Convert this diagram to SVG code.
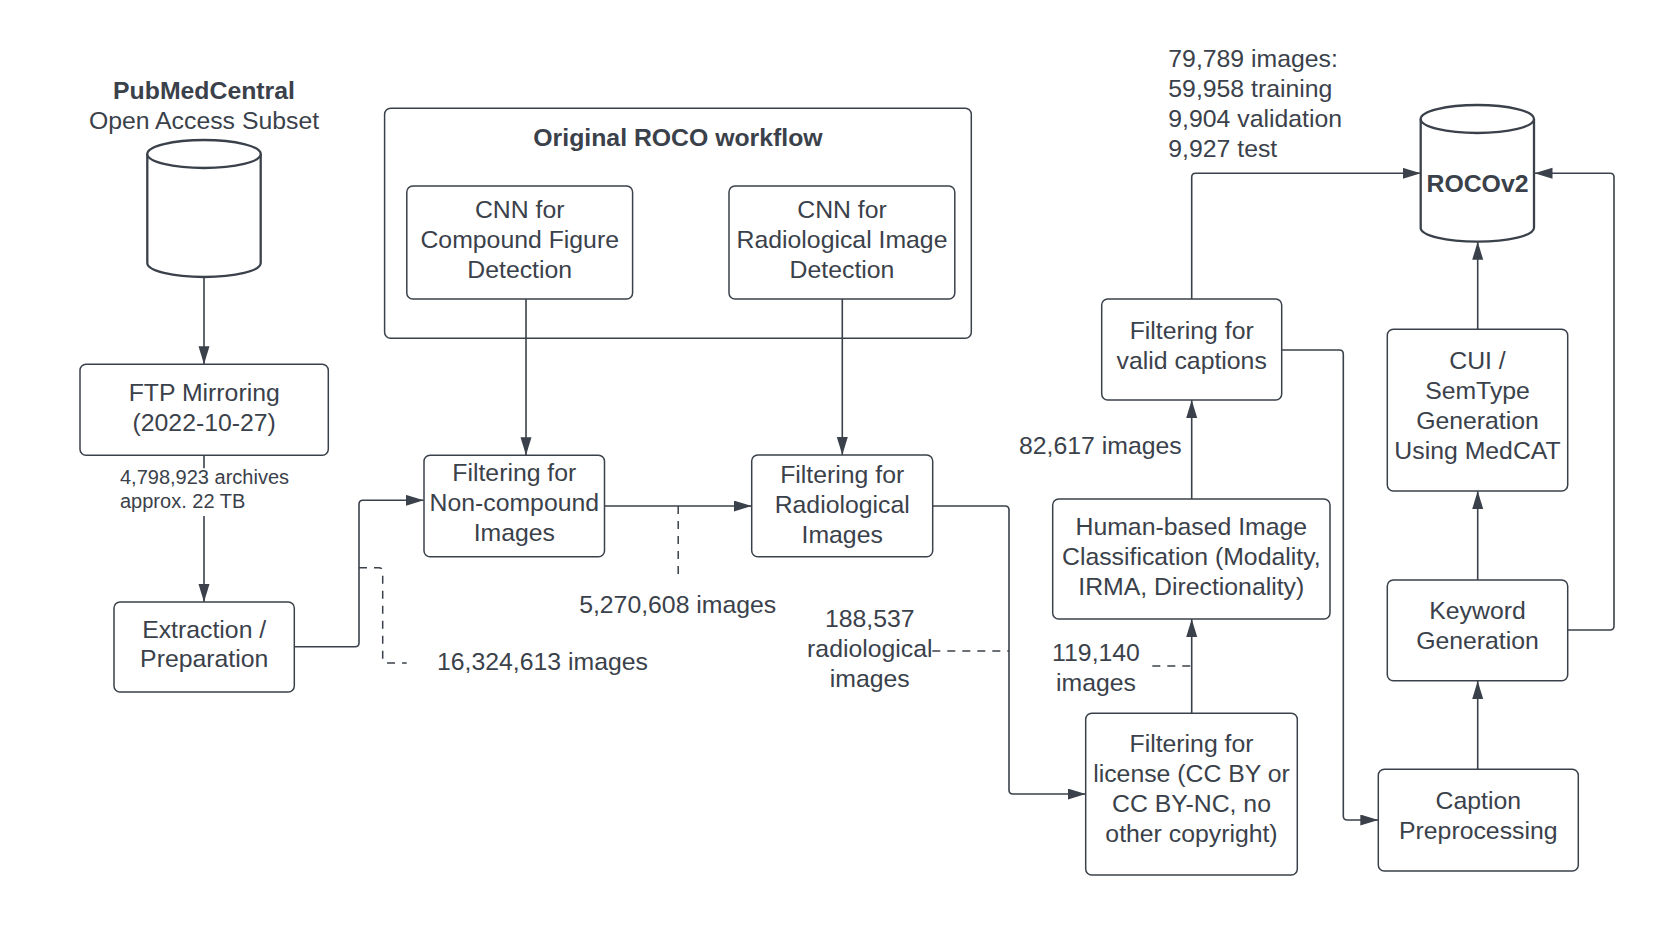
<svg xmlns="http://www.w3.org/2000/svg" width="1660" height="942" viewBox="0 0 1660 942">
<style>
text{font-family:"Liberation Sans",Arial,sans-serif;fill:#3a414a;font-size:24.8px}
.c{text-anchor:middle}
.b{font-weight:bold}
.s{font-size:20px}
.box{fill:#fff;stroke:#3a414a;stroke-width:1.5}
.frame{fill:none;stroke:#3a414a;stroke-width:1.5}
.cyl{fill:#fff;stroke:#3a414a;stroke-width:2.3}
.ln{fill:none;stroke:#3a414a;stroke-width:1.6}
.ar{marker-end:url(#ah)}
.dash{fill:none;stroke:#3a414a;stroke-width:1.5;stroke-dasharray:8 7}
</style>
<defs>
<marker id="ah" markerUnits="userSpaceOnUse" markerWidth="19" markerHeight="12" refX="18" refY="5.5" orient="auto">
<path d="M0,0 L18,5.5 L0,11 z" fill="#3a414a"/>
</marker>
</defs>
<rect width="1660" height="942" fill="#fff"/>

<g id="roco">
<rect class="frame" x="384.6" y="108.3" width="586.7" height="230" rx="6"/>
<text class="c b" x="678" y="145.7">Original ROCO workflow</text>
</g>

<g id="connectors">
<path class="ln ar" d="M204 277 V364.3"/>
<path class="ln" d="M204 455.3 V468.3"/>
<path class="ln ar" d="M204 516 V602"/>
<path class="ln ar" d="M294.3 646.7 H355 Q359 646.7 359 642.7 V504.3 Q359 500.3 363 500.3 H423.7"/>
<path class="dash" d="M359 567.7 H378.7 Q382.7 567.7 382.7 571.7 V659 Q382.7 663 386.7 663 H406.7"/>
<path class="ln ar" d="M526 299 V455.3"/>
<path class="ln ar" d="M842.3 299 V455"/>
<path class="ln ar" d="M604.5 506 H751.7"/>
<path class="dash" d="M678.2 506 V575"/>
<path class="ln ar" d="M932.7 506 H1005 Q1009 506 1009 510 V790 Q1009 794 1013 794 H1085.7"/>
<path class="dash" d="M932.3 651 H1009"/>
<path class="ln ar" d="M1191.7 713.3 V619"/>
<path class="dash" d="M1152.3 666 H1191.7"/>
<path class="ln ar" d="M1191.7 499 V400"/>
<path class="ln ar" d="M1191.7 299 V177.3 Q1191.7 173.3 1195.7 173.3 H1420.7"/>
<path class="ln ar" d="M1281.7 350 H1339.3 Q1343.3 350 1343.3 354 V816 Q1343.3 820 1347.3 820 H1378.3"/>
<path class="ln ar" d="M1477.7 769.3 V681"/>
<path class="ln ar" d="M1477.7 580 V491"/>
<path class="ln ar" d="M1477.7 329.3 V241.7"/>
<path class="ln ar" d="M1567.7 630 H1610 Q1614 630 1614 626 V177.3 Q1614 173.3 1610 173.3 H1534.5"/>
</g>

<g id="pmc">
<path class="cyl" d="M147.3 154 V263 A56.7 14 0 0 0 260.7 263 V154"/>
<ellipse class="cyl" cx="204" cy="154" rx="56.7" ry="14"/>
<text class="c b" x="204" y="98.5">PubMedCentral</text>
<text class="c" x="204" y="128.5">Open Access Subset</text>
</g>

<g id="cnn1">
<rect class="box" x="406.8" y="186" width="225.8" height="113" rx="6"/>
<text class="c" x="519.7" y="218.3">CNN for</text>
<text class="c" x="519.7" y="248.3">Compound Figure</text>
<text class="c" x="519.7" y="278.3">Detection</text>
</g>

<g id="cnn2">
<rect class="box" x="729" y="186" width="225.8" height="113" rx="6"/>
<text class="c" x="842" y="218.3">CNN for</text>
<text class="c" x="842" y="248.3">Radiological Image</text>
<text class="c" x="842" y="278.3">Detection</text>
</g>

<g id="ftp">
<rect class="box" x="80" y="364.3" width="248.3" height="91" rx="6"/>
<text class="c" x="204.2" y="401">FTP Mirroring</text>
<text class="c" x="204.2" y="430.7">(2022-10-27)</text>
</g>
<g id="lbl-archives">
<text class="s" x="120" y="484">4,798,923 archives</text>
<text class="s" x="120" y="507.7">approx. 22 TB</text>
</g>

<g id="extraction">
<rect class="box" x="114" y="602" width="180.3" height="90" rx="6"/>
<text class="c" x="204.2" y="637.7">Extraction /</text>
<text class="c" x="204.2" y="667.3">Preparation</text>
</g>
<g id="lbl-16m"><text x="437" y="670">16,324,613 images</text></g>

<g id="noncompound">
<rect class="box" x="424" y="455.3" width="180.5" height="101.4" rx="6"/>
<text class="c" x="514.3" y="481">Filtering for</text>
<text class="c" x="514.3" y="511">Non-compound</text>
<text class="c" x="514.3" y="541">Images</text>
</g>
<g id="lbl-5m"><text class="c" x="677.7" y="613.3">5,270,608 images</text></g>

<g id="radiological">
<rect class="box" x="751.7" y="455" width="181" height="101.7" rx="6"/>
<text class="c" x="842.2" y="483.3">Filtering for</text>
<text class="c" x="842.2" y="513.3">Radiological</text>
<text class="c" x="842.2" y="543.3">Images</text>
</g>
<g id="lbl-188k">
<text class="c" x="869.8" y="626.7">188,537</text>
<text class="c" x="869.8" y="656.7">radiological</text>
<text class="c" x="869.8" y="686.7">images</text>
</g>

<g id="license">
<rect class="box" x="1085.7" y="713.3" width="211.6" height="161.7" rx="6"/>
<text class="c" x="1191.5" y="752.3">Filtering for</text>
<text class="c" x="1191.5" y="782.3">license (CC BY or</text>
<text class="c" x="1191.5" y="812.3">CC BY-NC, no</text>
<text class="c" x="1191.5" y="842.3">other copyright)</text>
</g>
<g id="lbl-119k">
<text class="c" x="1096" y="660.5">119,140</text>
<text class="c" x="1096" y="690.5">images</text>
</g>

<g id="human">
<rect class="box" x="1052.7" y="499" width="277.3" height="120" rx="6"/>
<text class="c" x="1191.3" y="535">Human-based Image</text>
<text class="c" x="1191.3" y="565">Classification (Modality,</text>
<text class="c" x="1191.3" y="595">IRMA, Directionality)</text>
</g>
<g id="lbl-82k"><text x="1181.7" y="454" text-anchor="end">82,617 images</text></g>

<g id="valid">
<rect class="box" x="1101.7" y="299" width="180" height="101" rx="6"/>
<text class="c" x="1191.7" y="339.3">Filtering for</text>
<text class="c" x="1191.7" y="369">valid captions</text>
</g>

<g id="lbl-79k">
<text x="1168.3" y="67">79,789 images:</text>
<text x="1168.3" y="97.3">59,958 training</text>
<text x="1168.3" y="127.3">9,904 validation</text>
<text x="1168.3" y="157.3">9,927 test</text>
</g>

<g id="rocov2">
<path class="cyl" d="M1420.7 119 V227.7 A56.65 14 0 0 0 1534 227.7 V119"/>
<ellipse class="cyl" cx="1477.35" cy="119" rx="56.65" ry="14"/>
<text class="c b" x="1477.5" y="191.7">ROCOv2</text>
</g>

<g id="cui">
<rect class="box" x="1387.3" y="329.3" width="180.4" height="161.7" rx="6"/>
<text class="c" x="1477.5" y="369.3">CUI /</text>
<text class="c" x="1477.5" y="399.3">SemType</text>
<text class="c" x="1477.5" y="429.3">Generation</text>
<text class="c" x="1477.5" y="458.7">Using MedCAT</text>
</g>

<g id="keyword">
<rect class="box" x="1387.3" y="580" width="180.4" height="100.7" rx="6"/>
<text class="c" x="1477.5" y="619.3">Keyword</text>
<text class="c" x="1477.5" y="648.8">Generation</text>
</g>

<g id="caption">
<rect class="box" x="1378.3" y="769.3" width="200" height="101.7" rx="6"/>
<text class="c" x="1478.3" y="809">Caption</text>
<text class="c" x="1478.3" y="839">Preprocessing</text>
</g>
</svg>
